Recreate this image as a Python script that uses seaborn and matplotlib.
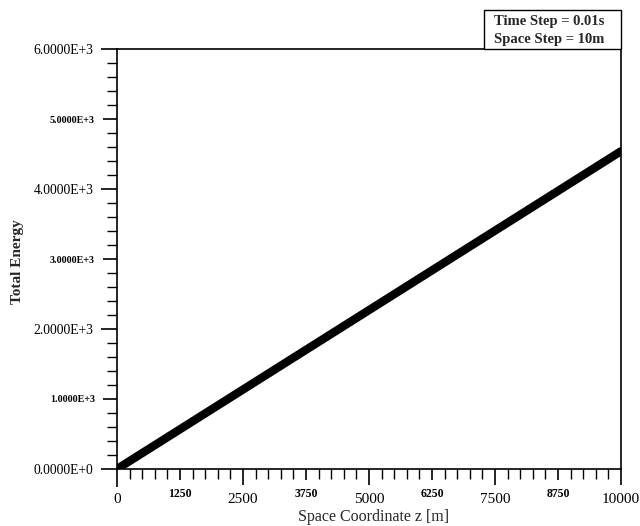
import matplotlib
matplotlib.use("Agg")
import matplotlib.pyplot as plt
import numpy as np
import pandas as pd
import seaborn as sns
from matplotlib.patches import Rectangle

# Total energy along the space coordinate
z_m = [0, 2500, 5000, 7500, 10000]
total_energy = [0, 1135, 2270, 3405, 4540]

x_ticks = [0, 1250, 2500, 3750, 5000, 6250, 7500, 8750, 10000]
x_tick_labels = ["0", "1250", "2500", "3750", "5000", "6250", "7500", "8750", "10000"]
y_ticks = [0, 1000, 2000, 3000, 4000, 5000, 6000]
y_tick_labels = ["0.0000E+0", "1.0000E+3", "2.0000E+3", "3.0000E+3",
                 "4.0000E+3", "5.0000E+3", "6.0000E+3"]
info_lines = ["Time Step = 0.01s", "Space Step = 10m"]

sns.set_style("ticks")
plt.rcParams["font.family"] = ["Liberation Serif", "DejaVu Serif"]
plt.rcParams["axes.edgecolor"] = "black"

W, H = 640, 526
fig = plt.figure(figsize=(W / 100, H / 100), dpi=100)
L, R, T, B = 117, 621, 49, 469
ax = fig.add_axes([L / W, 1 - B / H, (R - L) / W, (B - T) / H])

df = pd.DataFrame({"z": z_m, "energy": total_energy})
sns.lineplot(data=df, x="z", y="energy", ax=ax, color="black",
             linewidth=6.0, solid_capstyle="round")

ax.set_xlim(0, 10000)
ax.set_ylim(0, 6000)
ax.set_xlabel("")
ax.set_ylabel("")
for s in ax.spines.values():
    s.set_linewidth(1.2)
    s.set_color("black")

ax.set_xticks(x_ticks)
ax.set_xticklabels(x_tick_labels)
ax.set_xticks(np.arange(0, 10001, 250), minor=True)
ax.set_yticks(y_ticks)
ax.set_yticklabels(y_tick_labels)
ax.set_yticks(np.arange(0, 6001, 200), minor=True)

ax.tick_params(axis="both", which="major", direction="out", length=11.5,
               width=1.2, colors="black")
ax.tick_params(axis="both", which="minor", direction="out", length=7,
               width=1.0, colors="black")
ax.tick_params(axis="x", which="major", pad=6.0)
ax.tick_params(axis="y", which="major", pad=5.5)

# alternate label sizes: intermediate labels are smaller and sit closer
for i, t in enumerate(ax.xaxis.get_major_ticks()):
    if i % 2 == 1:
        t.set_pad(2.0)
        t.tick1line.set_markersize(8)
        t.label1.set_fontsize(8.5)
        t.label1.set_fontweight("bold")
    else:
        t.label1.set_fontsize(11)
        if i == 0:
            t.tick1line.set_markersize(13)

for i, t in enumerate(ax.yaxis.get_major_ticks()):
    if i % 2 == 1:
        t.set_pad(4.5)
        t.tick1line.set_markersize(10)
        t.label1.set_fontsize(7.2)
        t.label1.set_fontweight("bold")
    else:
        t.label1.set_fontsize(9.8)

fig.text(374 / W, 1 - 517 / H, "Space Coordinate z [m]", ha="center",
         va="center", fontsize=11.5)
fig.text(18 / W, 1 - 262 / H, "Total Energy", ha="center", va="center",
         rotation=90, fontsize=11, fontweight="bold")

# run-parameter box above the top-right corner
bx0, bx1, by0, by1 = 484, 621, 10, 49
fig.add_artist(Rectangle((bx0 / W, 1 - by1 / H), (bx1 - bx0) / W,
                         (by1 - by0) / H, transform=fig.transFigure,
                         facecolor="white", edgecolor="black", linewidth=1.0))
for k, line in enumerate(info_lines):
    fig.text(494 / W, 1 - (21 + 18 * k) / H, line, ha="left", va="center",
             fontsize=10.5, fontweight="bold")

fig.savefig("out.png", dpi=100)
